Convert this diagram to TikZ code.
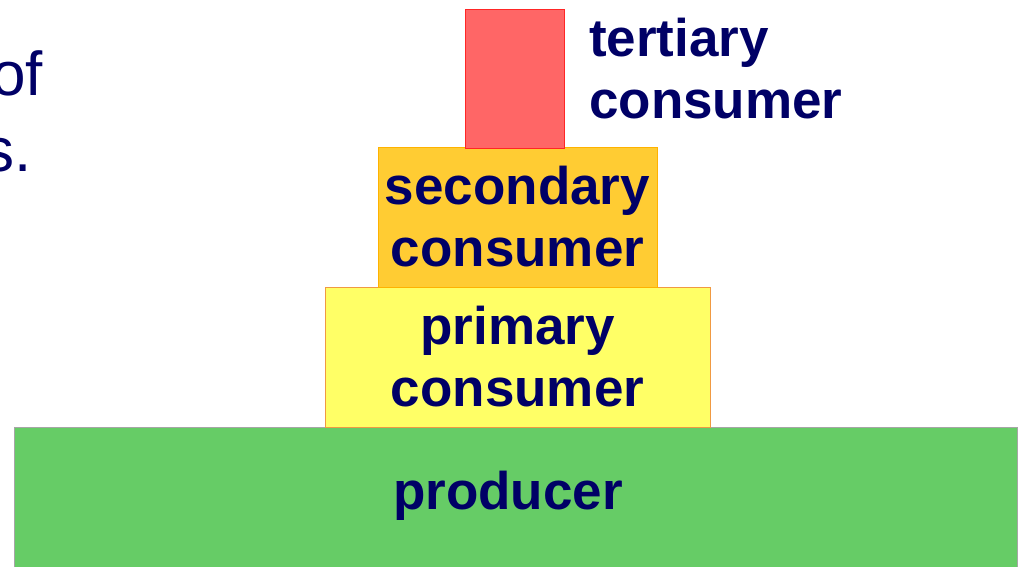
\documentclass[tikz,border=0pt]{standalone}
\usepackage{fontspec}
\setmainfont{Liberation Sans}
\definecolor{navy}{HTML}{000066}
\definecolor{redfill}{HTML}{FF6666}
\definecolor{orangefill}{HTML}{FFCC33}
\definecolor{yellowfill}{HTML}{FFFF66}
\definecolor{greenfill}{HTML}{66CC66}
\begin{document}
\begin{tikzpicture}[x=1pt,y=-1pt,
  level/.style={draw, line width=1pt, inner sep=0pt, align=center,
    text=navy, font=\fontsize{53}{62}\selectfont\bfseries},
  lab/.style={inner sep=0pt, align=center, text=navy, font=\fontsize{53}{62}\selectfont\bfseries},
  side/.style={inner sep=0pt, text=navy, font=\fontsize{62}{76}\selectfont}]
\useasboundingbox (0,0) rectangle (1021,566);
\node[level, fill=greenfill, draw=black!35, minimum width=1003pt, minimum height=142pt] (prod) at (515.5,498) {};
\node[lab] (prodlab) at (508,496) {producer};
\node[level, fill=yellowfill, draw=orange!70!brown!80, minimum width=385pt, minimum height=140pt] (prim) at (517.5,357) {primary\\consumer};
\node[level, fill=orangefill, draw=orange!60!yellow, minimum width=279pt, minimum height=140pt] (sec) at (517.5,217) {secondary\\consumer};
\node[level, fill=redfill, draw=red!85, minimum width=99pt, minimum height=139pt] (tert) at (514.5,78.5) {};
\node[lab, anchor=west, align=left] (tlab) at (589,69) {tertiary\\consumer};
\node[side, anchor=base east] (of) at (43,95) {of};
\node[side, anchor=base east] (s) at (32,171) {s.};
\end{tikzpicture}
\end{document}
